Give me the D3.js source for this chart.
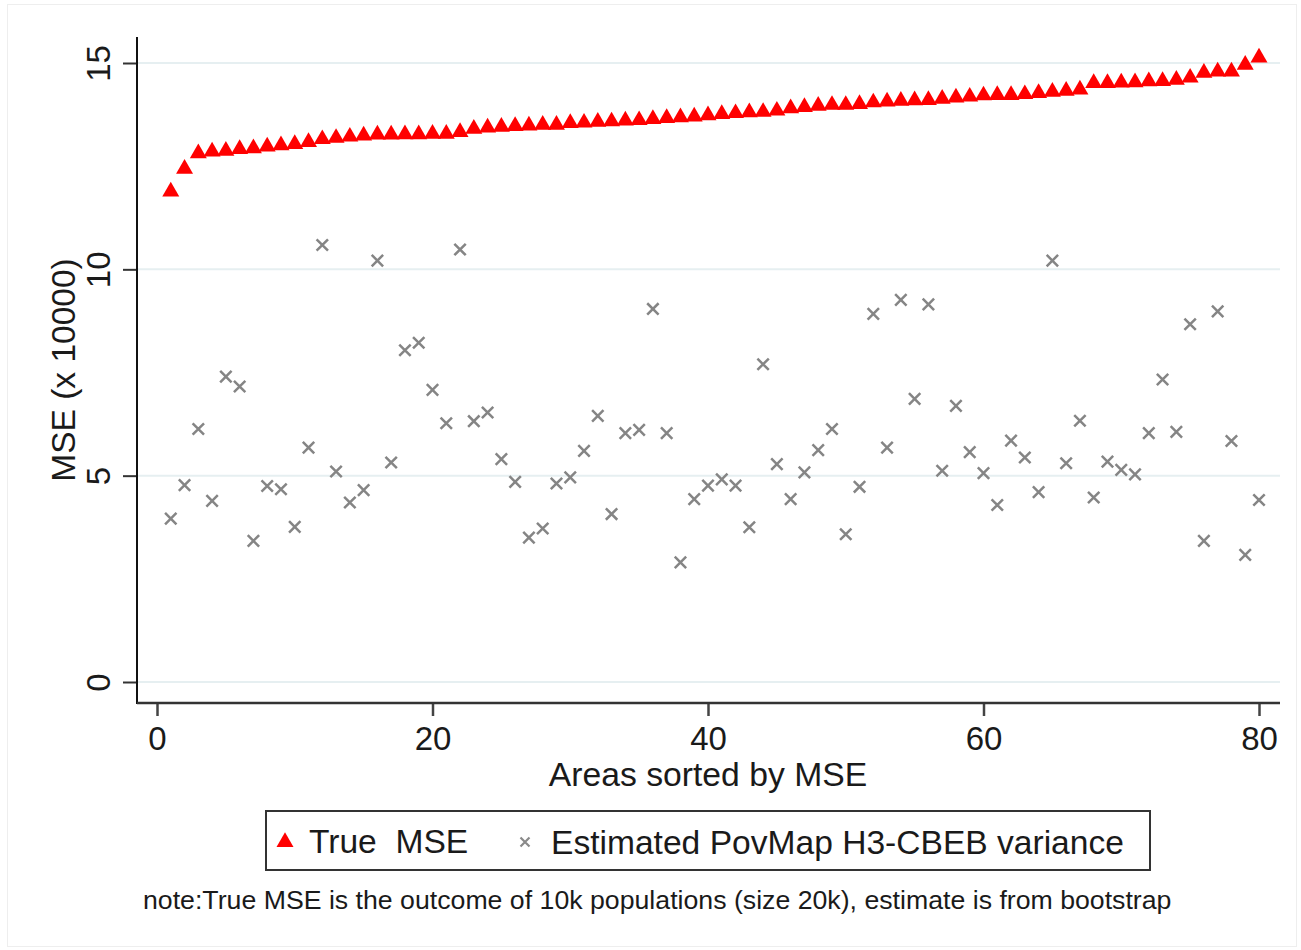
<!DOCTYPE html>
<html>
<head>
<meta charset="utf-8">
<script src="https://cdn.jsdelivr.net/npm/d3@7"></script>
<style>
  html, body { margin: 0; padding: 0; background: #fff; }
  svg { display: block; }
  text { font-family: "Liberation Sans", Arial, sans-serif; fill: #1a1a1a; white-space: pre; }
</style>
</head>
<body>
<div id="chart"></div>
<script>
// ---- Data ----
const areas = d3.range(1, 81);
const trueMSE = [
  11.92, 12.47, 12.85, 12.89, 12.91, 12.95, 12.97, 13.01, 13.04, 13.07,
  13.12, 13.19, 13.22, 13.25, 13.28, 13.30, 13.30, 13.31, 13.31, 13.32,
  13.32, 13.36, 13.44, 13.47, 13.49, 13.51, 13.52, 13.54, 13.54, 13.58,
  13.59, 13.61, 13.62, 13.64, 13.65, 13.68, 13.70, 13.72, 13.74, 13.77,
  13.80, 13.82, 13.84, 13.85, 13.88, 13.94, 13.97, 14.00, 14.02, 14.02,
  14.04, 14.08, 14.10, 14.12, 14.13, 14.14, 14.17, 14.20, 14.22, 14.25,
  14.26, 14.26, 14.28, 14.31, 14.34, 14.36, 14.39, 14.55, 14.55, 14.56,
  14.57, 14.59, 14.60, 14.63, 14.68, 14.80, 14.83, 14.83, 14.99, 15.17
];
const estVariance = [
  3.96, 4.77, 6.13, 4.39, 7.40, 7.16, 3.42, 4.75, 4.67, 3.76,
  5.68, 10.59, 5.10, 4.35, 4.65, 10.21, 5.32, 8.04, 8.22, 7.08,
  6.27, 10.48, 6.32, 6.53, 5.40, 4.85, 3.50, 3.72, 4.81, 4.96,
  5.60, 6.45, 4.07, 6.03, 6.11, 9.04, 6.03, 2.90, 4.43, 4.76,
  4.91, 4.76, 3.75, 7.70, 5.28, 4.43, 5.08, 5.62, 6.13, 3.58,
  4.73, 8.92, 5.68, 9.26, 6.86, 9.15, 5.12, 6.69, 5.57, 5.06,
  4.29, 5.85, 5.44, 4.60, 10.21, 5.30, 6.33, 4.47, 5.34, 5.14,
  5.03, 6.03, 7.33, 6.06, 8.67, 3.42, 8.98, 5.84, 3.08, 4.41
];
const xTicks = [0, 20, 40, 60, 80];
const yTicks = [0, 5, 10, 15];
const xTitle = "Areas sorted by MSE";
const yTitle = "MSE (x 10000)";
const legendLabels = ["True\u00a0\u00a0MSE", "Estimated PovMap H3-CBEB variance"];
const note = "note:True MSE is the outcome of 10k populations (size 20k), estimate is from bootstrap";

// ---- Layout ----
const W = 1301, H = 950;
const plot = { left: 137, right: 1280, top: 37, bottom: 703 };

const svg = d3.select("#chart").append("svg")
  .attr("width", W).attr("height", H);

// faint outer frame
svg.append("rect").attr("x", 7.5).attr("y", 4.5).attr("width", W - 12).attr("height", H - 8)
  .attr("fill", "none").attr("stroke", "#eeeeee").attr("stroke-width", 1);

const x = d3.scaleLinear().domain([0, 80]).range([157, 1259]);
const y = d3.scaleLinear().domain([0, 15]).range([682, 63]);

// gridlines
svg.append("g").selectAll("line").data(yTicks).join("line")
  .attr("x1", plot.left).attr("x2", plot.right)
  .attr("y1", d => y(d)).attr("y2", d => y(d))
  .attr("stroke", "#e6eff1").attr("stroke-width", 2);

// y axis
const yAxis = svg.append("g").attr("transform", `translate(${plot.left},0)`)
  .call(d3.axisLeft(y).tickValues(yTicks).tickSize(14).tickPadding(12).tickSizeOuter(0));
yAxis.select(".domain").remove();
yAxis.selectAll(".tick line").attr("stroke", "#333").attr("stroke-width", 2);
yAxis.selectAll(".tick text")
  .attr("font-size", 33).attr("fill", "#1a1a1a")
  .attr("x", null).attr("dy", null)
  .attr("text-anchor", "middle")
  .attr("transform", "translate(-39,0) rotate(-90)")
  .attr("dy", "0.35em");
svg.append("line").attr("x1", plot.left).attr("x2", plot.left)
  .attr("y1", plot.top).attr("y2", plot.bottom + 1)
  .attr("stroke", "#111").attr("stroke-width", 2);

// x axis
const xAxis = svg.append("g").attr("transform", `translate(0,${plot.bottom})`)
  .call(d3.axisBottom(x).tickValues(xTicks).tickFormat(d3.format("d")).tickSize(13).tickPadding(11).tickSizeOuter(0));
xAxis.select(".domain").remove();
xAxis.selectAll(".tick line").attr("stroke", "#444").attr("stroke-width", 2.5);
xAxis.selectAll(".tick text").attr("font-size", 33).attr("fill", "#1a1a1a");
svg.append("line").attr("x1", plot.left).attr("x2", plot.right)
  .attr("y1", plot.bottom).attr("y2", plot.bottom)
  .attr("stroke", "#333").attr("stroke-width", 2.5);

// axis titles
svg.append("text").attr("x", 708).attr("y", 786)
  .attr("text-anchor", "middle").attr("font-size", 33.7).text(xTitle);
svg.append("text").attr("transform", `translate(75,${(plot.top + plot.bottom) / 2}) rotate(-90)`)
  .attr("text-anchor", "middle").attr("font-size", 33.5).text(yTitle);

// markers
const tri = d3.symbol().type(d3.symbolTriangle).size(125);
const cross = (s) => `M${-s},${-s}L${s},${s}M${-s},${s}L${s},${-s}`;

svg.append("g").selectAll("path").data(areas).join("path")
  .attr("transform", (d, i) => `translate(${x(d)},${y(estVariance[i])})`)
  .attr("d", cross(5.7))
  .attr("stroke", "#858585").attr("stroke-width", 2.5).attr("fill", "none");

svg.append("g").selectAll("path").data(areas).join("path")
  .attr("transform", (d, i) => `translate(${x(d)},${y(trueMSE[i]) + 1.5})`)
  .attr("d", tri)
  .attr("fill", "#ff0000");

// legend
const lg = svg.append("g");
lg.append("rect").attr("x", 266).attr("y", 811).attr("width", 884).attr("height", 59)
  .attr("fill", "#fff").attr("stroke", "#333").attr("stroke-width", 2);
lg.append("path").attr("transform", "translate(285,842)").attr("d", tri).attr("fill", "#ff0000");
lg.append("text").attr("x", 309).attr("y", 853).attr("font-size", 33.6).text(legendLabels[0]);
lg.append("path").attr("transform", "translate(525,842)").attr("d", cross(4.5))
  .attr("stroke", "#8a8a8a").attr("stroke-width", 2.2).attr("fill", "none");
lg.append("text").attr("x", 551).attr("y", 854).attr("font-size", 33.6).text(legendLabels[1]);

// note
svg.append("text").attr("x", 143).attr("y", 909).attr("font-size", 26.7).text(note);
</script>
</body>
</html>
